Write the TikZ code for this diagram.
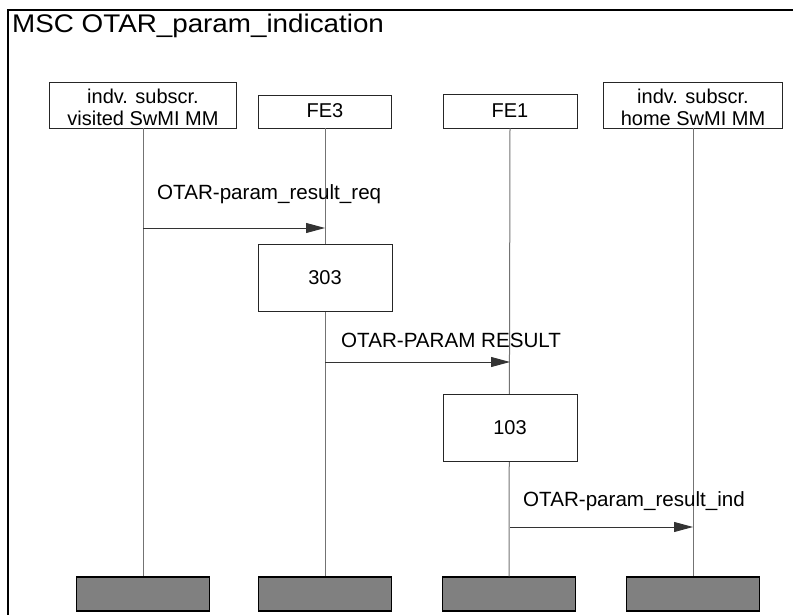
\documentclass[tikz,border=0pt]{standalone}
\usepackage{fontspec}
\setmainfont{Liberation Sans}
\usetikzlibrary{arrows.meta}
\begin{document}
\begin{tikzpicture}[x=1pt,y=-1pt,
  frameline/.style={draw=black,line width=1.5pt},
  headbox/.style={draw=black!85,line width=0.9pt,fill=white,inner sep=0pt},
  endbox/.style={draw=black,line width=1.3pt,fill=black!50,inner sep=0pt,minimum width=133pt,minimum height=34pt},
  actbox/.style={draw=black!85,line width=0.9pt,fill=white,inner sep=0pt,minimum width=134pt,minimum height=67pt,font=\fontsize{20}{22}\selectfont},
  txt/.style={inner sep=0pt,font=\fontsize{20}{22}\selectfont},
  msgtxt/.style={inner sep=0pt,font=\fontsize{20.6}{22}\selectfont},
  lifeline/.style={draw=black!55,line width=1pt},
  msg/.style={draw=black!80,line width=0.9pt,-{Triangle[length=19pt,width=10pt]}},
]
\useasboundingbox (0,0) rectangle (793,615);
% frame
\coordinate (fbl) at (8,615);
\coordinate (ftl) at (8,10);
\coordinate (ftr) at (793,10);
\draw[frameline] (fbl) -- (ftl) -- (ftr);
\node[inner sep=0pt,anchor=base west,xscale=1.09,font=\fontsize{25.5}{28}\selectfont] (title) at (12,33) {MSC OTAR\_param\_indication};

% head boxes
\node[headbox,minimum width=187pt,minimum height=46pt] (h1) at (143,105) {};
\node[txt,anchor=base] (h1a) at (143,104) {indv. subscr.};
\node[txt,anchor=base] (h1b) at (143,126) {visited SwMI MM};
\node[headbox,minimum width=133pt,minimum height=33pt] (h2) at (325,111.5) {};
\node[txt,anchor=base] (h2a) at (325,118) {FE3};
\node[headbox,minimum width=134pt,minimum height=34pt] (h3) at (510,111) {};
\node[txt,anchor=base] (h3a) at (510,118) {FE1};
\node[headbox,minimum width=179pt,minimum height=46pt] (h4) at (693,105) {};
\node[txt,anchor=base] (h4a) at (693,104) {indv. subscr.};
\node[txt,anchor=base] (h4b) at (693,126) {home SwMI MM};

% end boxes
\node[endbox] (e1) at (143,594) {};
\node[endbox] (e2) at (325,594) {};
\node[endbox] (e3) at (509,594) {};
\node[endbox] (e4) at (693,594) {};

% lifelines
\draw[lifeline] (h1.south) -- (e1.north);
\draw[lifeline] (h2.south) -- (e2.north);
\draw[lifeline] (h3.south) -- (e3.north);
\draw[lifeline] (h4.south) -- (e4.north);

% action boxes
\node[actbox] (a303) at (325,277.5) {303};
\node[actbox] (a103) at (510,427.5) {103};

% messages
\coordinate (m1s) at (143,228);
\coordinate (m1e) at (325,228);
\draw[msg] (m1s) -- (m1e);
\node[msgtxt,anchor=base west] (l1) at (157,200) {OTAR-param\_result\_req};

\coordinate (m2s) at (325,362);
\coordinate (m2e) at (510,362);
\draw[msg] (m2s) -- (m2e);
\node[msgtxt,anchor=base west] (l2) at (341,347) {OTAR-PARAM RESULT};

\coordinate (m3s) at (510,527);
\coordinate (m3e) at (693,527);
\draw[msg] (m3s) -- (m3e);
\node[msgtxt,anchor=base west] (l3) at (523,506) {OTAR-param\_result\_ind};
\end{tikzpicture}
\end{document}
